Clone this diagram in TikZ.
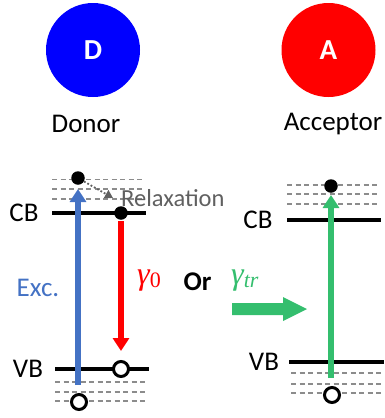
\documentclass[tikz,border=0pt]{standalone}
\usepackage{fontspec}
\setmainfont{Carlito}
\newfontfamily\gfont{Liberation Serif}
\usetikzlibrary{arrows.meta}
\definecolor{dblue}{HTML}{0000FF}
\definecolor{ared}{HTML}{FF0000}
\definecolor{excblue}{HTML}{4472C4}
\definecolor{trgreen}{RGB}{52,190,110}
\definecolor{relgray}{HTML}{606060}
\tikzset{
  level/.style={line width=4pt, black},
  sub/.style={line width=1.4pt, gray!90, dash pattern=on 5pt off 3.5pt},
  elec/.style={circle, fill=black, inner sep=0pt, minimum size=13.5pt},
  hole/.style={circle, draw=black, fill=white, line width=3pt, inner sep=0pt, minimum size=15pt},
  lbl/.style={font=\fontsize{27}{30}\selectfont, inner sep=0pt},
  bigc/.style={circle, inner sep=0pt, minimum size=94pt, text=white, font=\bfseries\fontsize{29}{32}\selectfont},
  trans/.style={line width=6pt, -{Triangle[width=16pt,length=13pt]}},
  rate/.style={inner sep=0pt, font=\gfont\fontsize{32}{34}\selectfont},
}
\newcommand{\subtxt}[1]{\raisebox{-3pt}{\fontsize{22}{24}\selectfont #1}}
\begin{document}
\begin{tikzpicture}[x=1pt,y=-1pt]
\useasboundingbox (0,0) rectangle (385,418);
% top circles
\node[bigc, fill=dblue] (D) at (93,50) {D};
\node[bigc, fill=ared] (A) at (328.5,50) {A};
\node[lbl] (donor) at (86,124) {Donor};
\node[lbl] (acceptor) at (333,124) {Acceptor};
% ---- donor levels
\draw[sub] (52,179.5) -- (143,179.5);
\draw[sub] (52,189) -- (143,189);
\draw[sub] (52,199) -- (143,199);
\draw[sub] (55,382) -- (148,382);
\draw[sub] (55,392) -- (148,392);
\draw[sub] (55,401) -- (148,401);
\draw[level] (52,213) -- (146,213);
\draw[level] (55,369) -- (149,369);
\node[lbl] (cbL) at (24,213) {CB};
\node[lbl] (vbL) at (28,369) {VB};
% ---- acceptor levels
\draw[sub] (287,185) -- (377,185);
\draw[sub] (287,194) -- (377,194);
\draw[sub] (287,204) -- (377,204);
\draw[sub] (291,373) -- (383,373);
\draw[sub] (291,384) -- (383,384);
\draw[sub] (291,393) -- (383,393);
\draw[level] (287,220) -- (381,220);
\draw[level] (289,362) -- (384,362);
\node[lbl] (cbR) at (258,220) {CB};
\node[lbl] (vbR) at (264,362) {VB};
% ---- coordinates for arrows
\coordinate (excS) at (78,385);
\coordinate (excE) at (78,189);
\coordinate (redS) at (121,221);
\coordinate (redE) at (121,351);
\coordinate (grS) at (331,378);
\coordinate (grE) at (331,195);
\coordinate (relE) at (113,198);
% transitions
\draw[trans, excblue] (excS) -- (excE);
\draw[trans, ared] (redS) -- (redE);
\draw[trans, trgreen] (grS) -- (grE);
% carriers
\node[elec] (eTop) at (78,178) {};
\node[elec] (eCB) at (121,213) {};
\node[hole] (hVB) at (121,369) {};
\node[hole] (hBot) at (79,402) {};
\node[elec] (eA) at (331,186) {};
\node[hole] (hA) at (332,395) {};
% relaxation
\draw[relgray, line width=1.8pt, dotted, -{Triangle[width=9pt,length=8pt,sep=0pt]}] (eTop) -- (relE);
\node[lbl, font=\fontsize{24.5}{27}\selectfont, text=relgray, anchor=west] (relax) at (121,198) {Relaxation};
% labels
\node[lbl, text=excblue] (exc) at (38,288) {Exc.};
\node[rate, text=ared, anchor=base west] (g0) at (137,284) {{\itshape γ}\subtxt{0}};
\node[lbl, font=\bfseries\fontsize{27}{30}\selectfont, anchor=base] (or) at (197.5,290) {Or};
\node[rate, text=trgreen, anchor=base west] (gtr) at (231,284) {{\itshape γ}\subtxt{\itshape tr}};
% block arrow
\fill[trgreen] (232,303) -- (283,303) -- (283,297) -- (307,309) -- (283,321) -- (283,315) -- (232,315) -- cycle;
\end{tikzpicture}
\end{document}
